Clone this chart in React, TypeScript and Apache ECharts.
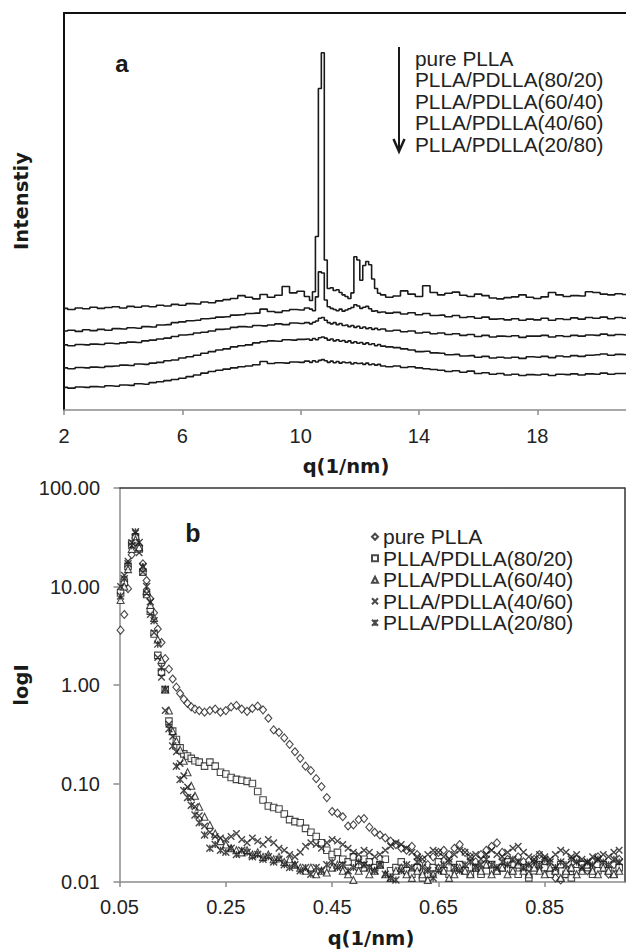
import React, { useEffect, useRef } from "react";
import * as echarts from "echarts";

// ---------- shared names ----------
const seriesNames = [
  "pure PLLA",
  "PLLA/PDLLA(80/20)",
  "PLLA/PDLLA(60/40)",
  "PLLA/PDLLA(40/60)",
  "PLLA/PDLLA(20/80)",
];

// ---------- panel a (WAXD, offset traces) ----------
const qTicksA = [2, 6, 10, 14, 18];
const qA = [
  2.0, 2.25, 2.5, 2.75, 3.0, 3.25, 3.5, 3.75, 4.0, 4.25, 4.5, 4.75, 5.0, 5.25, 5.5, 5.75, 6.0, 6.25, 6.5, 6.75,
  7.0, 7.25, 7.5, 7.75, 8.0, 8.25, 8.5, 8.75, 9.0, 9.25, 9.5, 9.75, 10.0, 10.25,
  10.35, 10.45, 10.55, 10.65, 10.75, 10.85, 10.95, 11.05, 11.15, 11.25, 11.35, 11.45, 11.55, 11.65, 11.75,
  11.85, 11.95, 12.05, 12.15, 12.25, 12.35, 12.45, 12.55, 12.65, 12.75,
  13.0, 13.25, 13.5, 13.75, 14.0, 14.25, 14.5, 14.75, 15.0, 15.25, 15.5, 15.75, 16.0, 16.25, 16.5, 16.75,
  17.0, 17.25, 17.5, 17.75, 18.0, 18.25, 18.5, 18.75, 19.0, 19.25, 19.5, 19.75, 20.0, 20.25, 20.5, 20.75, 21.0,
];
const intPure = [
  25.6, 25.3, 25.7, 25.5, 25.9, 25.6, 25.8, 26.0, 25.7, 26.1, 25.9, 26.2, 26.0, 26.4, 26.2, 26.6, 26.4, 26.8, 26.7, 27.2,
  27.0, 27.5, 27.8, 28.1, 28.8, 28.4, 28.0, 29.1, 28.4, 28.9, 31.1, 29.5, 29.9, 28.6,
  27.6, 29.8, 43.7, 81, 90, 37.8, 30.6, 30.8, 30.1, 30.3, 29.6, 29.0, 28.6, 28.1, 29.5,
  38.6, 37.8, 32.7, 36.4, 37.4, 36.6, 33.0, 30.6, 29.4, 29.0,
  28.4, 28.7, 30.0, 29.2, 28.6, 31.3, 29.6, 29.0, 29.4, 29.7, 28.9, 28.6, 29.2, 28.8, 28.2, 28.0,
  28.3, 28.5, 29.0, 28.4, 28.1, 28.5, 29.6, 29.0, 28.6, 28.8, 28.7, 29.8, 29.6, 29.2, 29.0, 29.3, 29.1,
];
const int8020 = [
  19.9, 20.1, 19.8, 20.2, 20.0, 20.3, 20.1, 20.5, 20.4, 20.7, 20.6, 21.0, 20.9, 21.4, 21.5, 22.0, 22.2, 22.5, 22.6, 23.0,
  23.1, 23.4, 23.5, 23.9, 24.0, 24.3, 24.4, 25.4, 24.8, 24.6, 25.0, 25.3, 25.2, 25.7,
  25.4, 25.0, 28.5, 34.8, 34.5, 27.7, 26.0, 25.6, 25.3, 25.0, 25.4, 24.9, 25.2, 25.5, 25.8,
  26.5, 26.2, 25.6, 25.9, 26.1, 25.5, 24.9, 25.0, 24.6, 24.7,
  24.4, 24.6, 24.2, 24.5, 24.0, 24.3, 23.8, 23.9, 23.5, 23.8, 23.3, 23.5, 23.1, 23.4, 22.9, 23.0,
  22.7, 23.0, 22.6, 22.9, 22.7, 23.1, 22.6, 23.0, 22.8, 23.2, 22.9, 23.3, 23.1, 23.4, 23.0, 23.3, 23.1,
];
const int6040 = [
  16.4, 16.2, 16.5, 16.4, 16.6, 16.5, 16.8, 16.7, 16.9, 17.1, 17.0, 17.4, 17.6, 17.9, 18.1, 18.5, 18.9, 19.0, 19.4, 19.6,
  19.9, 20.3, 20.4, 20.8, 21.0, 20.9, 21.3, 21.2, 21.4, 21.7, 21.5, 21.9, 21.8, 22.0,
  21.7, 22.1, 22.4, 23.1, 23.3, 22.6, 22.0, 21.7, 22.0, 21.5, 21.8, 21.3, 21.4, 21.0, 21.3,
  20.8, 21.1, 20.6, 20.9, 20.5, 20.7, 20.3, 20.6, 20.2, 20.4,
  19.9, 20.1, 19.7, 19.9, 19.4, 19.6, 19.2, 19.4, 19.0, 19.2, 18.8, 19.0, 18.5, 18.8, 18.4, 18.6,
  18.5, 18.7, 18.3, 18.6, 18.6, 18.8, 18.4, 18.7, 18.5, 18.8, 18.6, 18.9, 18.8, 19.1, 18.8, 19.0, 18.9,
];
const int4060 = [
  10.6, 10.4, 10.7, 10.6, 10.8, 10.7, 11.0, 11.1, 11.3, 11.2, 11.6, 11.5, 11.8, 12.0, 12.4, 12.6, 13.1, 13.4, 13.8, 14.3,
  14.7, 15.1, 15.4, 15.9, 16.2, 16.4, 16.9, 17.2, 17.4, 17.3, 17.7, 17.6, 17.8, 17.9,
  17.6, 18.0, 17.7, 18.2, 18.4, 18.1, 17.6, 17.9, 17.4, 17.7, 17.3, 17.5, 17.1, 17.4, 16.9,
  17.2, 16.8, 17.0, 16.6, 16.9, 16.5, 16.7, 16.2, 16.5, 16.1,
  15.9, 15.7, 15.4, 15.1, 14.7, 14.8, 14.4, 14.3, 13.9, 14.0, 13.6, 13.7, 13.3, 13.5, 13.1, 13.3,
  13.1, 13.3, 13.0, 13.4, 13.3, 13.5, 13.2, 13.6, 13.4, 13.7, 13.5, 13.8, 13.9, 14.1, 13.8, 14.0, 13.9,
];
const int2080 = [
  5.7, 5.5, 5.8, 5.7, 5.9, 5.8, 6.1, 6.0, 6.3, 6.2, 6.6, 6.5, 6.9, 7.1, 7.4, 7.7, 8.0, 8.4, 8.8, 9.3,
  9.7, 10.0, 10.3, 10.6, 10.9, 11.1, 11.4, 12.2, 11.7, 11.9, 11.8, 12.1, 12.0, 12.3,
  12.0, 12.4, 12.1, 12.5, 12.7, 12.4, 12.0, 12.3, 11.9, 12.2, 11.8, 12.1, 11.9, 12.0, 11.6,
  11.9, 11.7, 11.8, 11.5, 11.8, 11.4, 11.6, 11.3, 11.5, 11.1,
  10.9, 11.1, 10.7, 10.9, 10.6, 10.4, 10.2, 10.0, 9.7, 9.9, 9.5, 9.8, 9.2, 9.4, 9.0, 9.2,
  8.8, 9.0, 8.7, 8.9, 8.8, 9.0, 8.7, 9.0, 8.9, 9.1, 8.8, 9.1, 9.0, 9.3, 9.0, 9.2, 9.2,
];

// ---------- panel b (SAXS, log I) ----------
const qTicksB = [0.05, 0.25, 0.45, 0.65, 0.85];
const logTicksB = [0.01, 0.1, 1, 10, 100];
const qB = [
  0.052, 0.059, 0.066, 0.073, 0.08, 0.087, 0.094, 0.101, 0.108, 0.115, 0.122, 0.129, 0.136, 0.143, 0.15, 0.157,
  0.164, 0.171, 0.178, 0.185, 0.192,
  0.2, 0.21, 0.22, 0.23, 0.24, 0.25, 0.26, 0.27, 0.28, 0.29,
  0.3, 0.31, 0.32, 0.33, 0.34, 0.35, 0.36, 0.37, 0.38, 0.39,
  0.4, 0.41, 0.42, 0.43, 0.44, 0.45, 0.46, 0.47, 0.48, 0.49,
  0.5, 0.51, 0.52, 0.53, 0.54, 0.55, 0.56, 0.57, 0.58, 0.59,
  0.6, 0.61, 0.62, 0.63, 0.64, 0.65, 0.66, 0.67, 0.68, 0.69,
  0.7, 0.71, 0.72, 0.73, 0.74, 0.75, 0.76, 0.77, 0.78, 0.79,
  0.8, 0.81, 0.82, 0.83, 0.84, 0.85, 0.86, 0.87, 0.88, 0.89,
  0.9, 0.91, 0.92, 0.93, 0.94, 0.95, 0.96, 0.97, 0.98, 0.99,
];
const iPure = [
  3.6, 5.2, 9.5, 21, 31, 26, 17, 11.5, 7.5, 5.4, 3.7, 2.7, 1.85, 1.45, 1.15, 0.95, 0.82, 0.72, 0.65, 0.6, 0.57,
  0.55, 0.53, 0.55, 0.57, 0.53, 0.55, 0.6, 0.62, 0.57, 0.54,
  0.58, 0.61, 0.56, 0.46, 0.35, 0.33, 0.29, 0.25, 0.21, 0.18,
  0.15, 0.135, 0.112, 0.093, 0.072, 0.052, 0.05, 0.046, 0.037, 0.038,
  0.043, 0.044, 0.036, 0.032, 0.03, 0.028, 0.026, 0.024, 0.022, 0.021,
  0.023, 0.019, 0.017, 0.015, 0.018, 0.02, 0.021, 0.019, 0.022, 0.024,
  0.02, 0.018, 0.016, 0.019, 0.021, 0.023, 0.025, 0.02, 0.017, 0.015,
  0.018, 0.016, 0.014, 0.017, 0.019, 0.016, 0.013, 0.011, 0.0105, 0.012,
  0.014, 0.017, 0.015, 0.013, 0.016, 0.018, 0.014, 0.012, 0.015, 0.017,
];
const i8020 = [
  8.6, 11, 16, 27, 32, 24, 14, 8.3, 5.6, 3.3, 2.0, 1.35, 0.9, 0.43, 0.34, 0.28, 0.23, 0.2, 0.19, 0.18, 0.17,
  0.165, 0.15, 0.165, 0.15, 0.13, 0.125, 0.115, 0.11, 0.108, 0.105,
  0.1, 0.083, 0.068, 0.059, 0.057, 0.055, 0.049, 0.043, 0.041, 0.04,
  0.035, 0.032, 0.029, 0.025, 0.021, 0.019, 0.02, 0.017, 0.016, 0.018,
  0.015, 0.017, 0.016, 0.014, 0.015, 0.017, 0.013, 0.014, 0.016, 0.013,
  0.012, 0.014, 0.011, 0.012, 0.014, 0.016, 0.013, 0.012, 0.014, 0.015,
  0.013, 0.012, 0.014, 0.012, 0.013, 0.015, 0.013, 0.014, 0.016, 0.013,
  0.012, 0.014, 0.011, 0.013, 0.015, 0.014, 0.012, 0.013, 0.015, 0.012,
  0.011, 0.013, 0.015, 0.014, 0.012, 0.013, 0.015, 0.013, 0.012, 0.014,
];
const i6040 = [
  7.3, 10, 15, 24, 30, 25, 15.5, 9, 6.5, 4.8, 2.9, 1.8, 0.9, 0.55, 0.34, 0.27, 0.22, 0.17, 0.13, 0.095, 0.075,
  0.058, 0.046, 0.038, 0.031, 0.026, 0.024, 0.022, 0.021, 0.02, 0.021,
  0.019, 0.02, 0.018, 0.019, 0.017, 0.018, 0.016, 0.017, 0.015, 0.014,
  0.013, 0.014, 0.012, 0.013, 0.0125, 0.014, 0.015, 0.013, 0.012, 0.0105,
  0.013, 0.014, 0.012, 0.013, 0.015, 0.012, 0.011, 0.013, 0.014, 0.012,
  0.011, 0.013, 0.012, 0.0105, 0.012, 0.014, 0.013, 0.011, 0.012, 0.014,
  0.013, 0.012, 0.014, 0.013, 0.015, 0.012, 0.013, 0.014, 0.012, 0.013,
  0.015, 0.013, 0.012, 0.014, 0.013, 0.012, 0.014, 0.013, 0.011, 0.013,
  0.014, 0.012, 0.013, 0.015, 0.013, 0.012, 0.014, 0.013, 0.012, 0.013,
];
const i4060 = [
  10, 13, 18, 28, 35, 22, 14, 8.5, 5.2, 3.4, 1.9, 1.2, 0.55, 0.4, 0.3, 0.21, 0.16, 0.12, 0.092, 0.072, 0.058,
  0.047, 0.037, 0.032, 0.029, 0.028, 0.027, 0.029, 0.031, 0.027, 0.025,
  0.028, 0.026, 0.024, 0.027, 0.025, 0.022, 0.021, 0.019, 0.018, 0.02,
  0.023, 0.025, 0.024, 0.022, 0.025, 0.027, 0.026, 0.024, 0.022, 0.02,
  0.019, 0.021, 0.02, 0.018, 0.019, 0.021, 0.023, 0.025, 0.024, 0.022,
  0.02, 0.018, 0.017, 0.019, 0.021, 0.02, 0.018, 0.017, 0.019, 0.021,
  0.02, 0.018, 0.019, 0.017, 0.019, 0.021, 0.019, 0.018, 0.02, 0.022,
  0.023, 0.02, 0.018, 0.017, 0.019, 0.018, 0.017, 0.019, 0.021, 0.02,
  0.018, 0.019, 0.017, 0.016, 0.018, 0.017, 0.019, 0.018, 0.02, 0.021,
];
const i2080 = [
  8, 12, 17, 26, 36, 28, 16, 10, 7, 4.5, 2.6, 1.5, 0.9, 0.36, 0.24, 0.15, 0.11, 0.085, 0.072, 0.06, 0.048,
  0.04, 0.03, 0.022, 0.024, 0.021, 0.02, 0.022, 0.019, 0.021, 0.02,
  0.018, 0.019, 0.017, 0.018, 0.016, 0.017, 0.015, 0.014, 0.015, 0.013,
  0.014, 0.012, 0.014, 0.013, 0.015, 0.016, 0.014, 0.015, 0.013, 0.014,
  0.016, 0.015, 0.014, 0.013, 0.015, 0.012, 0.011, 0.0105, 0.013, 0.015,
  0.014, 0.016, 0.014, 0.013, 0.011, 0.013, 0.015, 0.016, 0.014, 0.013,
  0.015, 0.016, 0.014, 0.015, 0.017, 0.015, 0.014, 0.016, 0.015, 0.017,
  0.016, 0.014, 0.015, 0.016, 0.015, 0.017, 0.016, 0.014, 0.016, 0.015,
  0.017, 0.016, 0.014, 0.016, 0.015, 0.017, 0.016, 0.015, 0.017, 0.016,
];

const INK = "#1a1a1a";
const GRAY = "#8c8c8c";
const SANS = '"Liberation Sans", Arial, sans-serif';
const TITLE_FONT = 'bold 19.5px "DejaVu Sans", Verdana, sans-serif';

export default function App() {
  const ref = useRef<HTMLDivElement>(null);

  useEffect(() => {
    if (!ref.current) return;
    const chart = echarts.init(ref.current, undefined, { renderer: "svg" });

    const aSets = [intPure, int8020, int6040, int4060, int2080];
    const bSets = [iPure, i8020, i6040, i4060, i2080];
    const symbols = [
      "diamond",
      "rect",
      "triangle",
      "path://M0,0L10,10M10,0L0,10",
      "path://M0,0L10,10M10,0L0,10M5,0L5,10",
    ];
    const symbolSizes: any[] = [[7, 8], 6.5, 7, 6.5, 7];

    const lineSeries = aSets.map((vals, i) => ({
      name: "WAXD " + seriesNames[i],
      type: "line",
      xAxisIndex: 0,
      yAxisIndex: 0,
      step: "middle",
      showSymbol: false,
      symbol: "none",
      data: qA.map((q, k) => [q, vals[k]]),
      lineStyle: { color: INK, width: 1.6 },
      itemStyle: { color: INK },
      z: 3,
    }));

    const scatterSeries = bSets.map((vals, i) => ({
      name: seriesNames[i],
      type: "scatter",
      xAxisIndex: 2,
      yAxisIndex: 1,
      symbol: symbols[i],
      symbolSize: symbolSizes[i],
      data: qB.map((q, k) => [q, vals[k]]),
      itemStyle: {
        color: i >= 3 ? INK : "#ffffff",
        borderColor: INK,
        borderWidth: i >= 3 ? 1.4 : 1.1,
      },
      z: 3,
    }));

    const legendTextsA = seriesNames.map((name, i) => ({
      type: "text",
      x: 415,
      y: 58 + 21.5 * i,
      style: {
        text: name,
        font: '20.8px "Liberation Sans", Arial, sans-serif',
        fill: "#222",
        textAlign: "left",
        textVerticalAlign: "middle",
      },
    }));

    const option: any = {
      animation: false,
      backgroundColor: "#ffffff",
      grid: [
        { left: 64, top: 13, width: 564, height: 397 },
        { left: 119.5, top: 488, width: 505, height: 394 },
      ],
      xAxis: [
        {
          gridIndex: 0,
          type: "value",
          position: "bottom",
          min: 2,
          max: 21,
          axisLine: { show: true, onZero: false, lineStyle: { color: GRAY, width: 1.5 } },
          axisTick: { show: true, length: 5, customValues: qTicksA, lineStyle: { color: GRAY, width: 1.5 } },
          axisLabel: {
            customValues: qTicksA,
            margin: 16,
            fontSize: 20,
            fontFamily: SANS,
            color: "#222",
          },
          splitLine: { show: false },
        },
        {
          gridIndex: 0,
          type: "value",
          position: "top",
          min: 2,
          max: 21,
          axisLine: { show: true, onZero: false, lineStyle: { color: "#111", width: 2 } },
          axisTick: { show: false },
          axisLabel: { show: false },
          splitLine: { show: false },
        },
        {
          gridIndex: 1,
          type: "value",
          position: "bottom",
          min: 0.05,
          max: 1.0,
          axisLine: { show: true, onZero: false, lineStyle: { color: GRAY, width: 1.5 } },
          axisTick: { show: true, length: 5, customValues: qTicksB, lineStyle: { color: GRAY, width: 1.5 } },
          axisLabel: {
            customValues: qTicksB,
            margin: 15,
            fontSize: 20,
            fontFamily: SANS,
            color: "#222",
            formatter: (v: number) => v.toFixed(2),
          },
          splitLine: { show: false },
        },
        {
          gridIndex: 1,
          type: "value",
          position: "top",
          min: 0.05,
          max: 1.0,
          axisLine: { show: true, onZero: false, lineStyle: { color: "#333", width: 1.5 } },
          axisTick: { show: false },
          axisLabel: { show: false },
          splitLine: { show: false },
        },
      ],
      yAxis: [
        {
          gridIndex: 0,
          type: "value",
          min: 0,
          max: 100,
          axisLine: { show: true, onZero: false, lineStyle: { color: "#111", width: 2 } },
          axisTick: { show: false },
          axisLabel: { show: false },
          splitLine: { show: false },
        },
        {
          gridIndex: 1,
          type: "log",
          logBase: 10,
          min: 0.01,
          max: 100,
          position: "left",
          axisLine: { show: true, onZero: false, lineStyle: { color: GRAY, width: 1.5 } },
          axisTick: { show: true, length: 6, customValues: logTicksB, lineStyle: { color: GRAY, width: 1.5 } },
          axisLabel: {
            customValues: logTicksB,
            margin: 19.5,
            fontSize: 20,
            fontFamily: SANS,
            color: "#222",
            formatter: (v: number) => v.toFixed(2),
          },
          minorTick: { show: false },
          splitLine: { show: false },
        },
        {
          gridIndex: 1,
          type: "log",
          logBase: 10,
          min: 0.01,
          max: 100,
          position: "right",
          axisLine: { show: true, onZero: false, lineStyle: { color: "#333", width: 1.5 } },
          axisTick: { show: false },
          axisLabel: { show: false },
          splitLine: { show: false },
        },
      ],
      legend: {
        show: true,
        orient: "vertical",
        left: 371,
        top: 526,
        padding: 0,
        itemGap: 0,
        itemWidth: 6,
        itemHeight: 6,
        data: seriesNames,
        selectedMode: false,
        textStyle: { fontSize: 21, lineHeight: 21.5, fontFamily: SANS, color: "#222" },
      },
      graphic: [
        {
          type: "text",
          x: 122,
          y: 63,
          style: {
            text: "a",
            font: 'bold 24px "Liberation Sans", Arial, sans-serif',
            fill: INK,
            textAlign: "center",
            textVerticalAlign: "middle",
          },
        },
        {
          type: "text",
          x: 193,
          y: 533,
          style: {
            text: "b",
            font: 'bold 25px "Liberation Sans", Arial, sans-serif',
            fill: INK,
            textAlign: "center",
            textVerticalAlign: "middle",
          },
        },
        ...legendTextsA,
        {
          type: "line",
          shape: { x1: 399, y1: 47, x2: 399, y2: 150 },
          style: { stroke: INK, lineWidth: 2 },
        },
        {
          type: "polyline",
          shape: { points: [[393.5, 139], [399, 151.5], [404.5, 139]] },
          style: { stroke: INK, lineWidth: 2.5, fill: "none" },
        },
        {
          type: "text",
          x: 346,
          y: 466,
          style: {
            text: "q(1/nm)",
            font: TITLE_FONT,
            fill: INK,
            textAlign: "center",
            textVerticalAlign: "middle",
          },
        },
        {
          type: "text",
          x: 371,
          y: 938,
          style: {
            text: "q(1/nm)",
            font: TITLE_FONT,
            fill: INK,
            textAlign: "center",
            textVerticalAlign: "middle",
          },
        },
        {
          type: "text",
          x: 21,
          y: 201,
          rotation: Math.PI / 2,
          style: {
            text: "Intenstiy",
            font: TITLE_FONT,
            fill: INK,
            textAlign: "center",
            textVerticalAlign: "middle",
          },
        },
        {
          type: "text",
          x: 21,
          y: 685,
          rotation: Math.PI / 2,
          style: {
            text: "logI",
            font: TITLE_FONT,
            fill: INK,
            textAlign: "center",
            textVerticalAlign: "middle",
          },
        },
      ],
      series: [...lineSeries, ...scatterSeries],
    };

    chart.setOption(option);
    return () => chart.dispose();
  }, []);

  return (
    <div
      ref={ref}
      style={{ position: "absolute", left: 0, top: 0, width: 626, height: 952, background: "#fff" }}
    />
  );
}
